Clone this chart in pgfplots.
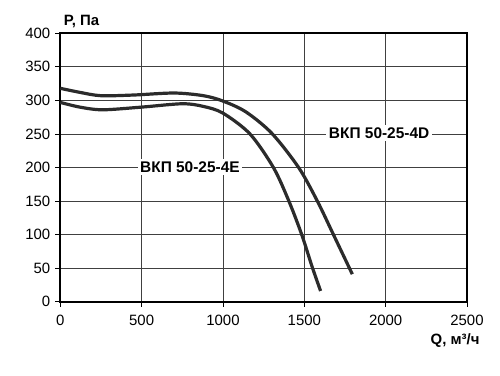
\documentclass[border=0pt]{standalone}
\usepackage{fontspec}
\setmainfont{Liberation Sans}
\usepackage{pgfplots}
\pgfplotsset{compat=1.18}
\definecolor{curve}{HTML}{2B2B2B}
\begin{document}
\begin{tikzpicture}
\begin{axis}[
  at={(0,0)}, anchor=south west,
  scale only axis, width=406.7bp, height=268.4bp,
  xmin=0, xmax=2500, ymin=0, ymax=400,
  xtick={0,500,...,2500}, ytick={0,50,...,400},
  xtick pos=left, ytick pos=left,
  grid=major, major grid style={draw=black!75, line width=0.8bp},
  axis line style={line width=1.8bp},
  tick style={black, line width=0.8bp}, tick align=outside, major tick length=5bp,
  /pgf/number format/assume math mode=true,
  /pgf/number format/1000 sep={},
  ticklabel style={font=\fontsize{15}{17}\selectfont},
  xticklabel style={yshift=-5bp},
  yticklabel style={xshift=-1.5bp},
  clip=false,
]
\addplot[curve, line width=3.2bp, smooth] coordinates {
  (0,318) (120,312) (250,307) (450,308) (700,311) (880,307)
  (1000,299) (1140,283) (1300,251) (1465,200) (1580,150)
  (1677,101) (1795,41)
};
\addplot[curve, line width=3.2bp, smooth] coordinates {
  (0,297) (120,290) (260,286) (500,290) (750,295) (880,291)
  (1000,281) (1166,250) (1310,200) (1405,150)
  (1484,100) (1548,52) (1600,16)
};
\node[fill=white, inner sep=2.5bp, font=\bfseries\fontsize{15.5}{17}\selectfont] at (axis cs:1960,251) {ВКП 50-25-4D};
\node[fill=white, inner sep=2.5bp, font=\bfseries\fontsize{15.5}{17}\selectfont] at (axis cs:797,201) {ВКП 50-25-4E};
\node[anchor=base west, font=\bfseries\fontsize{15}{17}\selectfont] at (rel axis cs:0,1) [yshift=8bp] {P, Па};
\node[anchor=base east, font=\bfseries\fontsize{15}{17}\selectfont] at (rel axis cs:1,0) [xshift=16bp, yshift=-43bp] {Q, м³/ч};
\end{axis}
\pgfresetboundingbox
\useasboundingbox (-60.3bp,-74.3bp) rectangle (439.7bp,301.7bp);
\end{tikzpicture}
\end{document}
